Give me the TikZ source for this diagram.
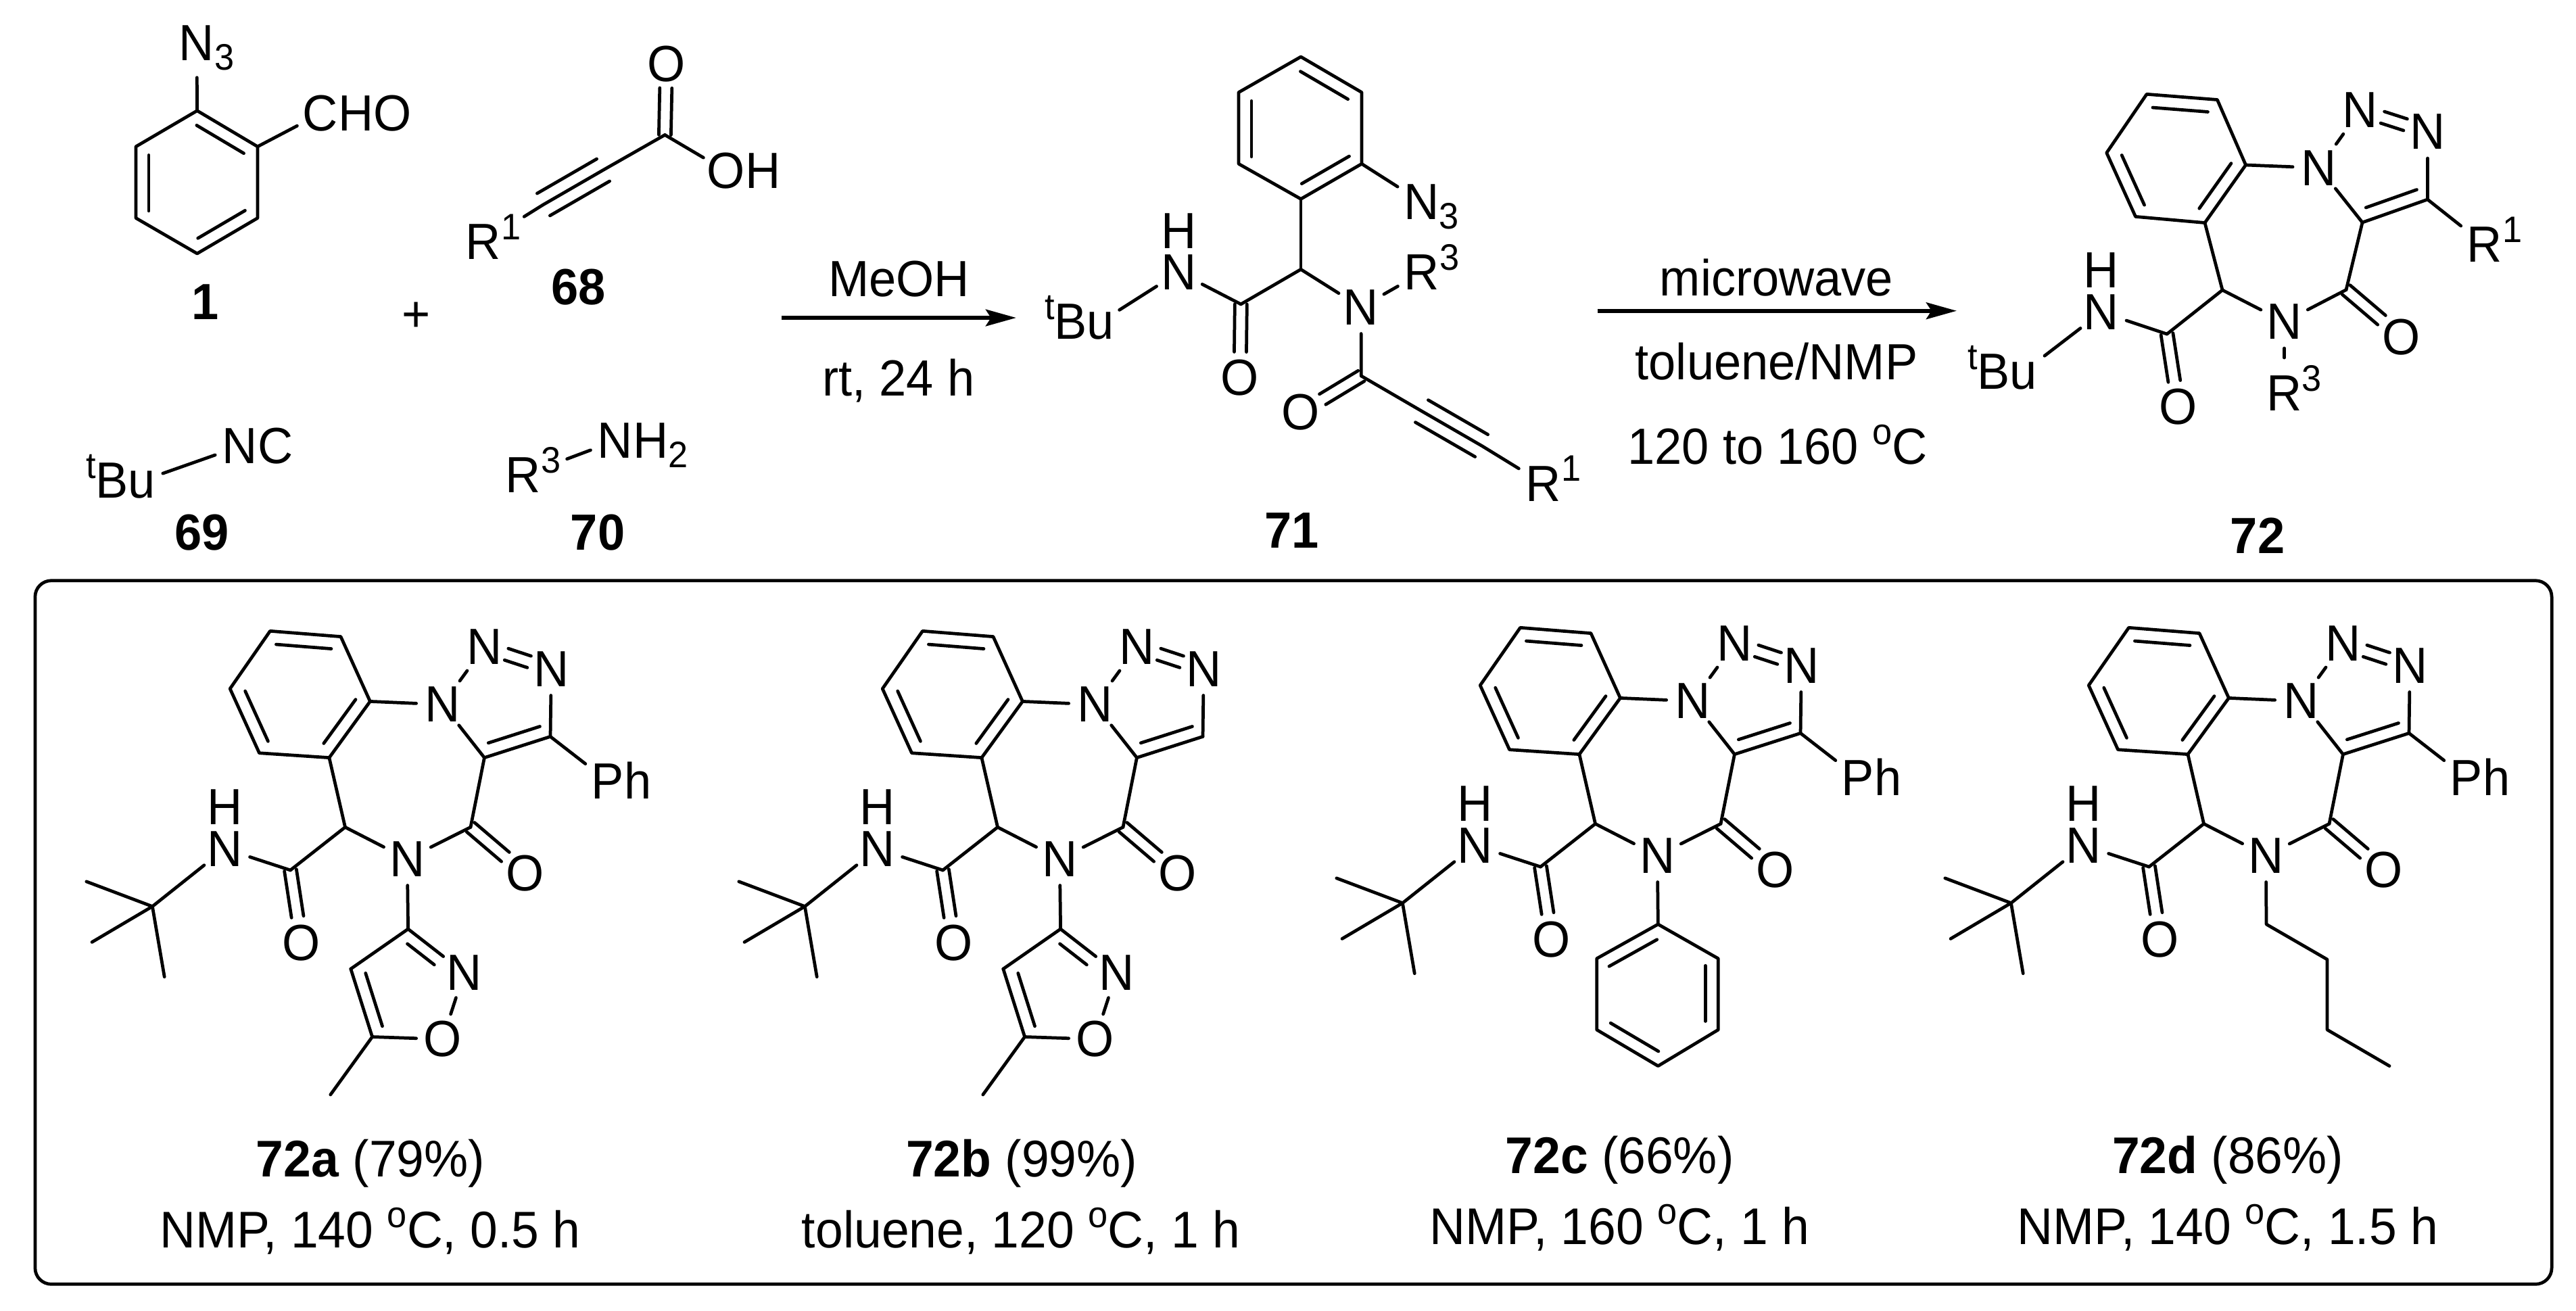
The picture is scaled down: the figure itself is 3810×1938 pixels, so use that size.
\documentclass[tikz,border=0pt]{standalone}
\usepackage{fontspec}
\setmainfont{Liberation Sans}[FakeStretch=0.96]
\usetikzlibrary{calc,arrows.meta}
\newcommand\mainfs{\fontsize{21.4}{25}\selectfont}
\newcommand\botfs{\fontsize{21.7}{25}\selectfont}
\newcommand\supr[1]{\raisebox{8.4pt}{\fontsize{15.5}{15.5}\selectfont #1}}
\newcommand\subr[1]{\raisebox{-4pt}{\fontsize{15.5}{15.5}\selectfont #1}}
\tikzset{
  atom/.style={circle,inner sep=0pt,outer sep=0pt,minimum size=22.2pt,text height=14.7pt,text depth=0pt,font=\mainfs},
  rad/.style={minimum size=#1*0.569pt},
  tight/.style={atom,minimum size=0pt},
  txt/.style={inner sep=0pt,outer sep=0pt,font=\mainfs,anchor=base},
  txtb/.style={txt,font=\botfs},
  bond/.style={line width=1.35pt,line cap=round,line join=round},
  nnb/.style={bond,shorten >=1.2pt,shorten <=1.2pt},
  rxn/.style={line width=1.7pt,-{Stealth[length=12.8pt,width=7pt,inset=2.2pt]}},
  panel/.style={draw,line width=1.35pt,rounded corners=0.24cm,inner sep=0pt,outer sep=0pt,minimum width=37.2cm,minimum height=10.4cm}
}
% inner line of a ring double bond, the ring lying to the right of a->b
\newcommand\inb[2]{\draw[bond] ($(#1)!.1!(#2)!5.4pt!-90:(#2)$) -- ($(#1)!.88!(#2)!5.4pt!-90:(#2)$);}
\newcommand\infr[4]{\draw[bond] ($(#1)!#3!(#2)!5.1pt!-90:(#2)$) -- ($(#1)!#4!(#2)!5.1pt!-90:(#2)$);}
% two lines either side of the a-b axis
\newcommand\dbl[4]{\draw[bond] ($(#1)!#3!(#2)!2.56pt!90:(#2)$) -- ($(#1)!#4!(#2)!2.56pt!90:(#2)$);
  \draw[bond] ($(#1)!#3!(#2)!2.56pt!-90:(#2)$) -- ($(#1)!#4!(#2)!2.56pt!-90:(#2)$);}
% the outer lines of a triple bond
\newcommand\trip[2]{\draw[bond] ($(#1)!.01!(#2)!5.4pt!90:(#2)$) -- ($(#1)!.99!(#2)!5.4pt!90:(#2)$);
  \draw[bond] ($(#1)!.01!(#2)!5.4pt!-90:(#2)$) -- ($(#1)!.99!(#2)!5.4pt!-90:(#2)$);}
% the framework shared by 72a-d
\newcommand\coreMol[1]{
  \coordinate (#1tl) at (399.5,933.3);
  \coordinate (#1tr) at (504,941.6);
  \coordinate (#1r) at (547.4,1037.4);
  \coordinate (#1br) at (486.9,1120.6);
  \coordinate (#1bl) at (383.5,1113.7);
  \coordinate (#1l) at (340.2,1018.6);
  \node[atom] (#1n1) at (654.6,1042) {N};
  \node[atom] (#1n2) at (716.4,957) {N};
  \node[atom] (#1n3) at (815.3,989.5) {N};
  \coordinate (#1c4) at (814,1089.4);
  \coordinate (#1c5) at (716.4,1120.6);
  \coordinate (#1co) at (696,1223.4);
  \node[atom] (#1ox) at (776.4,1292) {O};
  \node[atom] (#1n) at (602.3,1270.5) {N};
  \coordinate (#1ch) at (510.5,1223.4);
  \coordinate (#1am) at (429.5,1287);
  \node[atom] (#1ao) at (446,1394.8) {O};
  \node[atom] (#1nh) at (332.5,1255.3) {N};
  \node[atom] (#1h) at (332.5,1194) {H};
  \coordinate (#1tc) at (225.4,1340.6);
  \coordinate (#1m1) at (127.8,1303.8);
  \coordinate (#1m2) at (136,1393.4);
  \coordinate (#1m3) at (243.2,1444.7);
  \draw[bond] (#1tl) -- (#1tr) -- (#1r) -- (#1br) -- (#1bl) -- (#1l) -- cycle;
  \inb{#1tl}{#1tr}\inb{#1r}{#1br}\inb{#1bl}{#1l}
  \draw[bond] (#1r) -- (#1n1);
  \draw[nnb] (#1n1) -- (#1n2);
  \dbl{#1n2}{#1n3}{.33}{.67}
  \draw[bond] (#1n3) -- (#1c4);
  \draw[bond] (#1c4) -- (#1c5);
  \inb{#1c4}{#1c5}
  \draw[bond] (#1c5) -- (#1n1);
  \draw[bond] (#1c5) -- (#1co);
  \dbl{#1co}{#1ox}{0}{.64}
  \draw[bond] (#1co) -- (#1n);
  \draw[bond] (#1n) -- (#1ch);
  \draw[bond] (#1br) -- (#1ch);
  \draw[bond] (#1ch) -- (#1am);
  \dbl{#1am}{#1ao}{0}{.64}
  \draw[bond] (#1am) -- (#1nh);
  \draw[bond] (#1nh) -- (#1tc);
  \draw[bond] (#1tc) -- (#1m1);
  \draw[bond] (#1tc) -- (#1m2);
  \draw[bond] (#1tc) -- (#1m3);
}
\newcommand\phMol[1]{
  \node[atom,rad=42] (#1ph) at (899,1155.4) {P\rlap{h}};
  \draw[bond] (#1c4) -- (#1ph);
}
\newcommand\isoxMol[1]{
  \coordinate (#1i3) at (603.6,1374);
  \node[atom] (#1in) at (686.5,1438.5) {N};
  \node[atom] (#1io) at (654.6,1537) {O};
  \coordinate (#1i5) at (550.6,1533.5);
  \coordinate (#1i4) at (518.8,1433);
  \coordinate (#1im) at (488.8,1619);
  \draw[bond] (#1n) -- (#1i3);
  \draw[bond] (#1i3) -- (#1in);
  \draw[bond] (#1in) -- (#1io);
  \draw[bond] (#1io) -- (#1i5);
  \draw[bond] (#1i5) -- (#1i4);
  \draw[bond] (#1i4) -- (#1i3);
  \draw[bond] (#1i5) -- (#1im);
  \infr{#1i3}{#1in}{.12}{.6}
  \inb{#1i5}{#1i4}
}
\begin{document}
\begin{tikzpicture}[x=0.01cm,y=-0.01cm]
\useasboundingbox (0,0) rectangle (3810,1938);
\fill[white] (0,0) rectangle (3810,1938);

% ---------- 1
\coordinate (A1t) at (291.6,163.7);
\coordinate (A1ur) at (381,216.8);
\coordinate (A1lr) at (381,322.5);
\coordinate (A1b) at (291.6,375);
\coordinate (A1ll) at (201,322.5);
\coordinate (A1ul) at (201,216.8);
\draw[bond] (A1t) -- (A1ur) -- (A1lr) -- (A1b) -- (A1ll) -- (A1ul) -- cycle;
\inb{A1t}{A1ur}\inb{A1lr}{A1b}\inb{A1ll}{A1ul}
\node[atom,rad=51] (A1n3) at (291,63.7) {N\rlap{\subr{3}}};
\node[atom] (A1cho) at (474,168) {C\rlap{HO}};
\draw[bond] (A1t) -- (A1n3);
\draw[bond] (A1ur) -- (A1cho);
\node[txt] (L1) at (304,472.6) {\textbf{1}};
\node[txt,anchor=center] (plus) at (616,469) {+};

% ---------- 68
\node[atom,rad=71] (Br) at (715,358) {R\rlap{\supr{1}}};
\coordinate (Bc3) at (803,303);
\coordinate (Bc2) at (893,251);
\coordinate (Bc1) at (983.4,199.5);
\node[atom] (Bo) at (985.5,94.5) {O};
\node[atom] (Boh) at (1074,253) {O\rlap{H}};
\draw[bond] (Br) -- (Bc3) -- (Bc2) -- (Bc1);
\trip{Bc3}{Bc2}
\dbl{Bc1}{Bo}{0}{.66}
\draw[bond] (Bc1) -- (Boh);
\node[txt] (L68) at (855.5,450) {\textbf{68}};

% ---------- 69
\node[atom] (Cn) at (355,660) {N\rlap{C}};
\node[tight] (Cb) at (210,711) {\llap{\supr{t}B}u};
\draw[bond] (Cn) -- (Cb);
\node[txt] (L69) at (299,813) {\textbf{69}};

% ---------- 70
\node[atom] (Dn) at (910,652) {N\rlap{H\subr{2}}};
\node[atom,rad=69] (Dr) at (774,703) {R\rlap{\supr{3}}};
\draw[bond] (Dn) -- (Dr);
\node[txt] (L70) at (884,813) {\textbf{70}};

% ---------- arrow 1
\coordinate (a1s) at (1156,470);
\coordinate (a1e) at (1503,470);
\draw[rxn] (a1s) -- (a1e);
\node[txt] (t1a) at (1329.6,438.3) {MeOH};
\node[txt] (t1b) at (1329,585.7) {rt, 24 h};

% ---------- 71
\coordinate (Et) at (1924,84);
\coordinate (Eur) at (2014,136.6);
\coordinate (Elr) at (2014,242.3);
\coordinate (Eb) at (1924,294.3);
\coordinate (Ell) at (1832,242.3);
\coordinate (Eul) at (1832,136.6);
\draw[bond] (Et) -- (Eur) -- (Elr) -- (Eb) -- (Ell) -- (Eul) -- cycle;
\inb{Et}{Eur}\inb{Elr}{Eb}\inb{Ell}{Eul}
\node[atom,rad=42] (En3) at (2102.5,298.7) {N\rlap{\subr{3}}};
\draw[bond] (Elr) -- (En3);
\coordinate (Ech) at (1924,398.4);
\coordinate (Eam) at (1835.3,449.9);
\node[atom] (Eao) at (1834,558.5) {O};
\node[atom] (Enh) at (1743.5,402.5) {N};
\node[atom] (Eh) at (1743.5,341.5) {H};
\node[tight] (Eb2) at (1628,476) {\llap{\supr{t}B}u};
\node[atom] (En) at (2013,454.5) {N};
\node[atom,rad=41] (Er3) at (2103,403) {R\rlap{\supr{3}}};
\coordinate (Eco) at (2013.3,556);
\node[atom] (Eox) at (1924,610) {O};
\coordinate (Ec2) at (2102,607.6);
\coordinate (Ec3) at (2192,659.6);
\node[atom,rad=43] (Er1) at (2283,715.5) {R\rlap{\supr{1}}};
\draw[bond] (Eb) -- (Ech);
\draw[bond] (Ech) -- (Eam);
\dbl{Eam}{Eao}{0}{.65}
\draw[bond] (Eam) -- (Enh);
\draw[bond] (Enh) -- (Eb2);
\draw[bond] (Ech) -- (En);
\draw[bond] (En) -- (Er3);
\draw[bond] (En) -- (Eco);
\dbl{Eco}{Eox}{0}{.64}
\draw[bond] (Eco) -- (Ec2) -- (Ec3) -- (Er1);
\trip{Ec2}{Ec3}
\node[txt] (L71) at (1910.6,810) {\textbf{71}};

% ---------- arrow 2
\coordinate (a2s) at (2362.6,459.7);
\coordinate (a2e) at (2894,459.7);
\draw[rxn] (a2s) -- (a2e);
\node[txt] (t2a) at (2627.5,437.8) {microwave};
\node[txt] (t2b) at (2627.5,561.7) {toluene/NMP};
\node[txt] (t2c) at (2629,686.7) {120 to 160 \supr{o}C};

% ---------- 72
\coordinate (Ftl) at (3175,139.3);
\coordinate (Ftr) at (3279.4,147.5);
\coordinate (Fr) at (3321.5,244);
\coordinate (Fbr) at (3261,329.5);
\coordinate (Fbl) at (3158.5,320.4);
\coordinate (Fl) at (3115.7,226);
\draw[bond] (Ftl) -- (Ftr) -- (Fr) -- (Fbr) -- (Fbl) -- (Fl) -- cycle;
\inb{Ftl}{Ftr}\inb{Fr}{Fbr}\inb{Fbl}{Fl}
\node[atom] (Fn1) at (3430,248.3) {N};
\node[atom] (Fn2) at (3491,163) {N};
\node[atom] (Fn3) at (3590.5,195) {N};
\coordinate (Fc4) at (3590.4,295);
\coordinate (Fc5) at (3494,329);
\coordinate (Fco) at (3470,428.6);
\node[atom] (Fox) at (3552,498.5) {O};
\node[atom] (Fn) at (3378.6,476) {N};
\coordinate (Fch) at (3287,429);
\coordinate (Fam) at (3205,494);
\node[atom] (Fao) at (3221.6,601.5) {O};
\node[atom] (Fnh) at (3108,461.7) {N};
\node[atom] (Fh) at (3108,400) {H};
\node[atom] (Fb2) at (2993,550) {\llap{\supr{t}B}u};
\node[atom,rad=53] (Fr3) at (3378.6,582) {R\rlap{\supr{3}}};
\node[atom,rad=45] (Fr1) at (3675,362) {R\rlap{\supr{1}}};
\draw[bond] (Fr) -- (Fn1);
\draw[nnb] (Fn1) -- (Fn2);
\dbl{Fn2}{Fn3}{.33}{.67}
\draw[bond] (Fn3) -- (Fc4);
\draw[bond] (Fc4) -- (Fc5);
\inb{Fc4}{Fc5}
\draw[bond] (Fc5) -- (Fn1);
\draw[bond] (Fc4) -- (Fr1);
\draw[bond] (Fc5) -- (Fco);
\dbl{Fco}{Fox}{0}{.64}
\draw[bond] (Fco) -- (Fn);
\draw[bond] (Fn) -- (Fr3);
\draw[bond] (Fn) -- (Fch);
\draw[bond] (Fbr) -- (Fch);
\draw[bond] (Fch) -- (Fam);
\dbl{Fam}{Fao}{0}{.65}
\draw[bond] (Fam) -- (Fnh);
\draw[bond] (Fnh) -- (Fb2);
\node[txt] (L72) at (3339,818) {\textbf{72}};

% ---------- panel
\node[panel] (box) at (1913,1379) {};

% 72a
\begin{scope}
  \coreMol{a} \phMol{a} \isoxMol{a}
\end{scope}
\node[txtb] (La1) at (548,1740.7) {\textbf{72a} (79\%)};
\node[txtb] (La2) at (547.4,1845) {NMP, 140 \supr{o}C, 0.5 h};

% 72b
\begin{scope}[shift={(965,0)}]
  \coreMol{b} \isoxMol{b}
\end{scope}
\node[txtb] (Lb1) at (1511,1740.7) {\textbf{72b} (99\%)};
\node[txtb] (Lb2) at (1510,1845) {toluene, 120 \supr{o}C, 1 h};

% 72c
\begin{scope}[shift={(1849,-5)}]
  \coreMol{c} \phMol{c}
\end{scope}
\coordinate (cpt) at (2452.3,1367);
\coordinate (cpur) at (2541.3,1417.7);
\coordinate (cplr) at (2541.3,1523);
\coordinate (cpb) at (2452.3,1576.6);
\coordinate (cpll) at (2361.6,1523);
\coordinate (cpul) at (2361.6,1417.7);
\draw[bond] (cn) -- (cpt);
\draw[bond] (cpt) -- (cpur) -- (cplr) -- (cpb) -- (cpll) -- (cpul) -- cycle;
\inb{cpul}{cpt}\inb{cpur}{cplr}\inb{cpb}{cpll}
\node[txtb] (Lc1) at (2395.5,1735.5) {\textbf{72c} (66\%)};
\node[txtb] (Lc2) at (2395.5,1840) {NMP, 160 \supr{o}C, 1 h};

% 72d
\begin{scope}[shift={(2749,-5)}]
  \coreMol{d} \phMol{d}
\end{scope}
\coordinate (dc1) at (3352,1367);
\coordinate (dc2) at (3442,1419);
\coordinate (dc3) at (3442,1523);
\coordinate (dc4) at (3534,1576.6);
\draw[bond] (dn) -- (dc1) -- (dc2) -- (dc3) -- (dc4);
\node[txtb] (Ld1) at (3295,1735.5) {\textbf{72d} (86\%)};
\node[txtb] (Ld2) at (3295,1840) {NMP, 140 \supr{o}C, 1.5 h};
\end{tikzpicture}
\end{document}
